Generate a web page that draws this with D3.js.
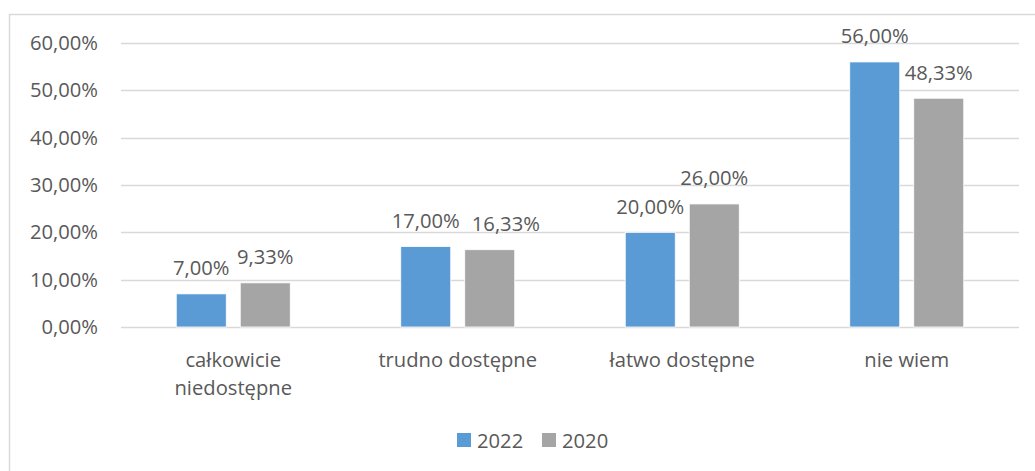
<!DOCTYPE html>
<html>
<head>
<meta charset="utf-8">
<script src="https://cdn.jsdelivr.net/npm/d3@7"></script>
<style>
  html, body { margin: 0; padding: 0; background: #fff; }
  svg { display: block; }
  text { font-family: "Open Sans", "Noto Sans", sans-serif; fill: #595959; }
</style>
</head>
<body>
<svg id="chart" width="1035" height="471"></svg>
<script>
// Categories and series
const categories = [["całkowicie", "niedostępne"], ["trudno dostępne"], ["łatwo dostępne"], ["nie wiem"]];
const series2022 = [7.00, 17.00, 20.00, 56.00];
const series2020 = [9.33, 16.33, 26.00, 48.33];
const seriesNames = ["2022", "2020"];
const yTicks = [0, 10, 20, 30, 40, 50, 60];

const colors = ["#5B9BD5", "#A5A5A5"];
const fmt = v => v.toFixed(2).replace(".", ",") + "%";
const fontSize = 20.2;

const svg = d3.select("#chart");

// Outer chart frame
svg.append("rect")
  .attr("x", 9.5).attr("y", 14.5)
  .attr("width", 1040).attr("height", 480)
  .attr("fill", "none").attr("stroke", "#D9D9D9").attr("stroke-width", 1.5);

const plot = { left: 121, right: 1019, top: 43, bottom: 327 };

const x0 = d3.scaleBand()
  .domain(d3.range(categories.length))
  .range([plot.left, plot.right])
  .paddingInner(0).paddingOuter(0);

const y = d3.scaleLinear().domain([0, 60]).range([plot.bottom, plot.top]);

// Gridlines
svg.append("g").selectAll("line")
  .data(yTicks)
  .join("line")
  .attr("x1", plot.left).attr("x2", plot.right)
  .attr("y1", d => Math.round(y(d)) + 0.5).attr("y2", d => Math.round(y(d)) + 0.5)
  .attr("stroke", "#D9D9D9").attr("stroke-width", 1.3);

// Y axis labels
const yAxis = d3.axisLeft(y).tickValues(yTicks).tickFormat(fmt).tickSize(0).tickPadding(0);
const yg = svg.append("g").attr("transform", `translate(98,0)`).call(yAxis);
yg.select(".domain").remove();
yg.selectAll("text")
  .attr("font-size", fontSize).attr("fill", "#595959")
  .style("font-family", '"Open Sans", "Noto Sans", sans-serif');

// Bars and value labels
const barW = 50, gap = 14;
const groups = [series2022, series2020];
const labelSel = [];
groups.forEach((vals, s) => {
  const offset = s === 0 ? -(gap / 2 + barW) : gap / 2;
  const g = svg.append("g");
  g.selectAll("rect")
    .data(vals)
    .join("rect")
    .attr("x", (d, i) => x0(i) + x0.bandwidth() / 2 + offset)
    .attr("y", d => y(d))
    .attr("width", barW)
    .attr("height", d => y(0) - y(d))
    .attr("fill", colors[s])
    .attr("stroke", "#fff").attr("stroke-width", 0.8);
  labelSel.push(g.selectAll("text")
    .data(vals)
    .join("text")
    .attr("x", (d, i) => x0(i) + x0.bandwidth() / 2 + offset + barW / 2)
    .attr("y", d => y(d) - 18.5)
    .attr("text-anchor", "middle")
    .attr("font-size", fontSize)
    .text(fmt));
});

// Nudge the second label of a pair to the right when both sit at nearly the same height
const firstNodes = labelSel[0].nodes();
labelSel[1].each(function (d, i) {
  const a = firstNodes[i];
  const ay = +a.getAttribute("y"), by = +this.getAttribute("y");
  if (Math.abs(ay - by) < 8) {
    const aRight = +a.getAttribute("x") + a.getComputedTextLength() / 2;
    const bLeft = +this.getAttribute("x") - this.getComputedTextLength() / 2;
    const minGap = 12;
    if (bLeft < aRight + minGap) {
      this.setAttribute("x", +this.getAttribute("x") + (aRight + minGap - bLeft));
    }
  }
});

// Category labels
const xg = svg.append("g");
categories.forEach((lines, i) => {
  const t = xg.append("text")
    .attr("x", x0(i) + x0.bandwidth() / 2)
    .attr("y", 367)
    .attr("text-anchor", "middle")
    .attr("font-size", fontSize);
  lines.forEach((ln, k) => {
    t.append("tspan")
      .attr("x", x0(i) + x0.bandwidth() / 2)
      .attr("dy", k === 0 ? 0 : 28)
      .text(ln);
  });
});

// Legend
const legend = svg.append("g");
const legendX = [457, 542];
seriesNames.forEach((name, s) => {
  legend.append("rect")
    .attr("x", legendX[s]).attr("y", 433)
    .attr("width", 14).attr("height", 14)
    .attr("fill", colors[s]);
  legend.append("text")
    .attr("x", legendX[s] + 20).attr("y", 448)
    .attr("font-size", fontSize)
    .text(name);
});
</script>
</body>
</html>
